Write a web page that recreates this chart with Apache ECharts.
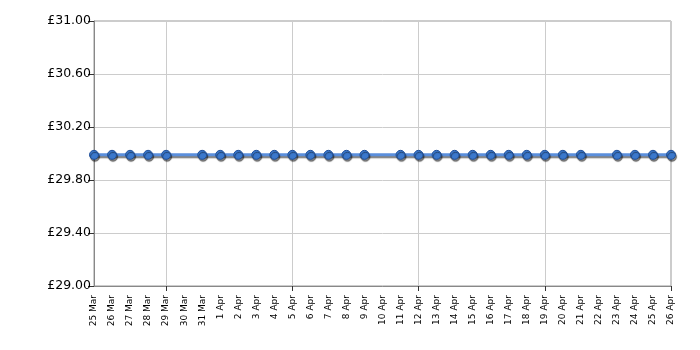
<!DOCTYPE html>
<html>
<head>
<meta charset="utf-8">
<script src="https://cdn.jsdelivr.net/npm/echarts@6/dist/echarts.min.js"></script>
<style>html,body{margin:0;padding:0;background:#fff}#c{width:700px;height:350px}</style>
</head>
<body>
<div id="c"></div>
<script>
var categories = ['25 Mar','26 Mar','27 Mar','28 Mar','29 Mar','30 Mar','31 Mar','1 Apr','2 Apr','3 Apr','4 Apr','5 Apr','6 Apr','7 Apr','8 Apr','9 Apr','10 Apr','11 Apr','12 Apr','13 Apr','14 Apr','15 Apr','16 Apr','17 Apr','18 Apr','19 Apr','20 Apr','21 Apr','22 Apr','23 Apr','24 Apr','25 Apr','26 Apr'];
var prices = [29.99,29.99,29.99,29.99,29.99,null,29.99,29.99,29.99,29.99,29.99,29.99,29.99,29.99,29.99,29.99,null,29.99,29.99,29.99,29.99,29.99,29.99,29.99,29.99,29.99,29.99,29.99,null,29.99,29.99,29.99,29.99];
var yMin = 29.0, yMax = 31.0, yStep = 0.4;

var chart = echarts.init(document.getElementById('c'), null, {renderer:'canvas'});
var font = 'DejaVu Sans, Verdana, sans-serif';
chart.setOption({
  animation:false,
  grid:{left:94,right:29,top:21,bottom:64,show:true,borderColor:'#999',borderWidth:1,backgroundColor:'transparent'},
  xAxis:{
    type:'category', data:categories, boundaryGap:false,
    axisLine:{lineStyle:{color:'#888',width:1}},
    axisTick:{show:true,length:5,interval:function(i){return i%7===4||i===categories.length-1;},lineStyle:{color:'#333'}},
    splitLine:{show:true,interval:function(i){return i%7===4;},lineStyle:{color:'#ccc',width:1}},
    axisLabel:{rotate:90,interval:0,fontSize:9,fontFamily:font,color:'#000',margin:9}
  },
  yAxis:{
    type:'value', min:yMin, max:yMax, interval:yStep,
    axisLine:{show:true,lineStyle:{color:'#888',width:1}},
    axisTick:{show:true,length:6,lineStyle:{color:'#333'}},
    splitLine:{show:true,lineStyle:{color:'#ccc',width:1}},
    axisLabel:{fontSize:12.5,fontFamily:font,color:'#000',margin:3,formatter:function(v){return '£'+v.toFixed(2);}}
  },
  series:[{
    type:'line', data:prices, connectNulls:true,
    symbol:'circle', symbolSize:9,
    lineStyle:{color:'#5b8fdc',width:3,shadowColor:'rgba(0,0,0,0.5)',shadowBlur:1,shadowOffsetX:1,shadowOffsetY:2},
    itemStyle:{color:'#3b78cc',borderColor:'#1f4f99',borderWidth:1,shadowColor:'rgba(0,0,0,0.5)',shadowBlur:1,shadowOffsetX:1,shadowOffsetY:2}
  }]
});
</script>
</body>
</html>
